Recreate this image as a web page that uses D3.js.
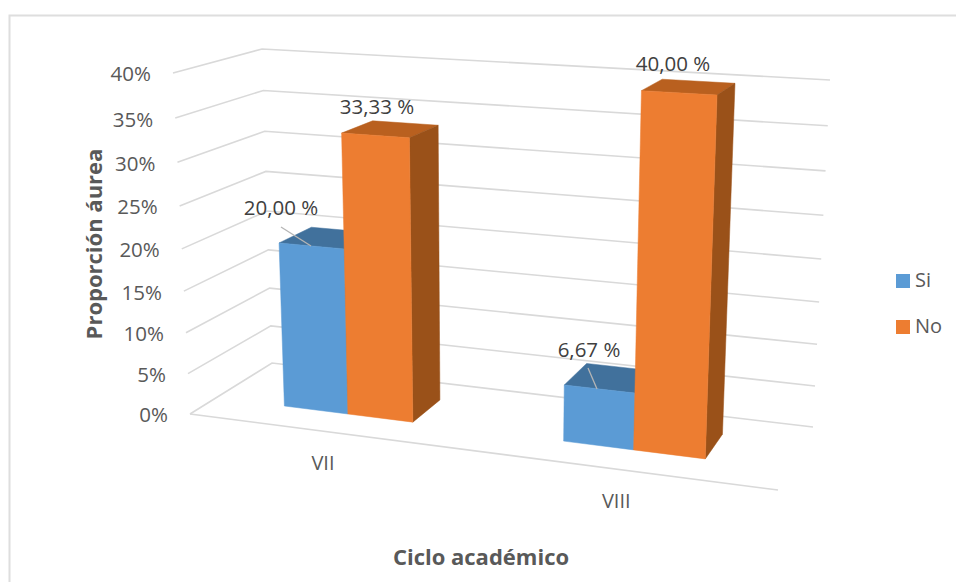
<!DOCTYPE html>
<html><head><meta charset="utf-8">
<script src="https://cdnjs.cloudflare.com/ajax/libs/d3/7.8.5/d3.min.js"></script>
<style>html,body{margin:0;padding:0;background:#fff}svg{display:block}text{font-family:"Open Sans",sans-serif}</style>
</head><body><svg id="c" width="956" height="582"></svg>
<script>
const categories = ["VII", "VIII"];
const seriesNames = ["Si", "No"];
const siValues = [20.00, 6.67];
const noValues = [33.33, 40.00];
const yTicks = [0, 5, 10, 15, 20, 25, 30, 35, 40];
const seriesColors = ["#5B9BD5", "#ED7D31"];
const topColors = ["#41719C", "#B9601F"];
const sideColors = ["#3A6690", "#9A5119"];

const svg = d3.select("#c");

// Perspective box: floor and ceiling quads (front-left, front-right, back-right, back-left)
const floorQuad = [[190,414],[778,490],[813,427],[272,363]];
const topQuad   = [[173,73],[794,110],[830,80],[262,49]];
function homography(q){
  const [[x0,y0],[x1,y1],[x2,y2],[x3,y3]] = q;
  const dx1=x1-x2, dy1=y1-y2, dx2=x3-x2, dy2=y3-y2, sx=x0-x1+x2-x3, sy=y0-y1+y2-y3;
  const det=dx1*dy2-dx2*dy1;
  const g=(sx*dy2-dx2*sy)/det, h=(dx1*sy-sx*dy1)/det;
  const a=x1-x0+g*x1, b=x3-x0+h*x3, d=y1-y0+g*y1, e=y3-y0+h*y3;
  return (u,w)=>{const k=g*u+h*w+1;return [(a*u+b*w+x0)/k,(d*u+e*w+y0)/k];};
}
const floorH = homography(floorQuad), topH = homography(topQuad);
const yScale = d3.scaleLinear().domain([0,40]).range([0,1]);
const lift = t => t/(1+0.065*(1-t));
function project(u,w,v){
  const t=lift(yScale(v)), a=floorH(u,w), b=topH(u,w);
  return [d3.interpolateNumber(a[0],b[0])(t), d3.interpolateNumber(a[1],b[1])(t)];
}

const xCat = d3.scaleBand().domain(categories).range([-0.003,0.997]);
const barSpan = 0.236;
const xSer = d3.scaleBand().domain(seriesNames).range([0,barSpan]);
const depth0 = 0.305, depth1 = 0.71;
const line = d3.line();
const gridColor = "#D9D9D9";

// Frame
svg.append("path").attr("d","M9.5,582V15.5H956").attr("fill","none").attr("stroke","#DEDEDE").attr("stroke-width",2);

// Gridlines
const grid = svg.append("g").attr("fill","none").attr("stroke",gridColor).attr("stroke-width",1.6);
yTicks.forEach(v=>{
  grid.append("path").attr("d",line([project(0,0,v),project(0,1,v),project(1,1,v)]));
});
grid.append("path").attr("d",line([project(0,0,0),project(1,0,0)]));

// Bars
categories.forEach((cat,i)=>{
  seriesNames.forEach((s,j)=>{
    const val = (j===0?siValues:noValues)[i];
    const u0 = xCat(cat)+xCat.bandwidth()/2-barSpan/2+xSer(s), u1 = u0+xSer.bandwidth();
    const g = svg.append("g");
    const face=(pts,col)=>g.append("path").attr("d",line(pts)+"Z").attr("fill",col).attr("stroke",col).attr("stroke-width",0.5);
    face([project(u0,depth0,val),project(u1,depth0,val),project(u1,depth1,val),project(u0,depth1,val)],topColors[j]);
    face([project(u1,depth0,0),project(u1,depth1,0),project(u1,depth1,val),project(u1,depth0,val)],sideColors[j]);
    face([project(u0,depth0,0),project(u1,depth0,0),project(u1,depth0,val),project(u0,depth0,val)],seriesColors[j]);
  });
});

// Y tick labels
yTicks.forEach(v=>{
  const p=project(0,0,v);
  svg.append("text").attr("x",p[0]-22).attr("y",p[1]+3).attr("text-anchor","end")
    .attr("dominant-baseline","middle").attr("font-size",20.5).attr("fill","#595959").text(v+"%");
});

// Category labels
categories.forEach(cat=>{
  const p=floorH(xCat(cat)+xCat.bandwidth()/2,0);
  svg.append("text").attr("x",p[0]-1.5).attr("y",p[1]+33).attr("text-anchor","middle")
    .attr("dominant-baseline","middle").attr("font-size",20).attr("fill","#595959").text(cat);
});

// Data labels and leaders
const fmt = v => v.toFixed(2).replace(".",",")+" %";
const labelPos = [[281,210],[377,109],[589,352],[673,66]];
const leaders = [[[281,227],[311,246]],null,[[588,368],[597,389]],null];
[siValues[0],noValues[0],siValues[1],noValues[1]].forEach((v,i)=>{
  if(leaders[i]) svg.append("path").attr("d",line(leaders[i])).attr("stroke","#B5B5B5").attr("stroke-width",1.3).attr("fill","none");
  svg.append("text").attr("x",labelPos[i][0]).attr("y",labelPos[i][1]).attr("text-anchor","middle")
    .attr("dominant-baseline","middle").attr("font-size",20.5).attr("fill","#404040").text(fmt(v));
});

// Axis titles
svg.append("text").attr("transform","translate(96,244) rotate(-90)").attr("text-anchor","middle")
  .attr("dominant-baseline","middle").attr("font-size",22).attr("font-weight",700).attr("fill","#595959").text("Proporción áurea");
svg.append("text").attr("x",481).attr("y",559).attr("text-anchor","middle")
  .attr("dominant-baseline","middle").attr("font-size",22).attr("font-weight",700).attr("fill","#595959").text("Ciclo académico");

// Legend
seriesNames.forEach((s,i)=>{
  const y=274+i*46;
  svg.append("rect").attr("x",896).attr("y",y).attr("width",14).attr("height",14).attr("fill",seriesColors[i]);
  svg.append("text").attr("x",915).attr("y",y+8).attr("dominant-baseline","middle").attr("font-size",20).attr("fill","#595959").text(s);
});
</script></body></html>
